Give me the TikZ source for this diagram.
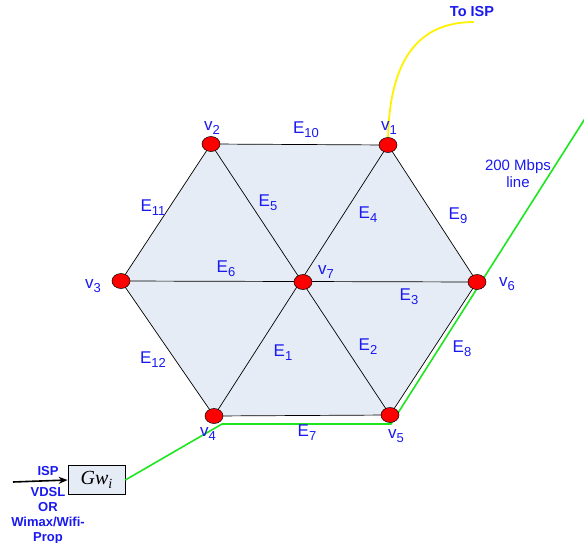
\documentclass[tikz,border=0pt]{standalone}
\usepackage{fontspec}
\setmainfont{Liberation Sans}
\newfontfamily\timesfont{Liberation Serif}
\usetikzlibrary{shapes.geometric,arrows.meta}
\definecolor{lblue}{RGB}{25,25,240}
\definecolor{hexfill}{RGB}{230,236,246}
\definecolor{ggreen}{RGB}{30,230,30}
\newcommand\lsub[1]{\raisebox{-0.45ex}{\fontsize{13}{13}\selectfont #1}}
\newcommand\gsub[1]{\raisebox{-0.45ex}{\fontsize{14}{14}\selectfont #1}}
\begin{document}
\begin{tikzpicture}[x=1pt,y=-1pt,
  vtx/.style={ellipse,draw=black,line width=0.5pt,fill=red,minimum width=18pt,minimum height=15pt,inner sep=0pt},
  lab/.style={text=lblue,font=\fontsize{17}{17}\selectfont,inner sep=0pt},
  edge/.style={draw=black,line width=0.7pt},
  small/.style={text=lblue,font=\bfseries\fontsize{13}{15}\selectfont,align=center,inner sep=0pt}]
\useasboundingbox (0,0) rectangle (584,543);
% hexagon fill
\fill[hexfill] (388,145) -- (211,144) -- (121,281) -- (214,416) -- (390,415) -- (477,282) -- cycle;
\coordinate (p1) at (388,145);
\coordinate (p2) at (211,144);
\coordinate (p3) at (121,281);
\coordinate (p4) at (214,416);
\coordinate (p5) at (390,415);
\coordinate (p6) at (477,282);
\coordinate (p7) at (303,282);
\draw[edge] (p1) -- (p2) -- (p3) -- (p4) -- (p5) -- (p6) -- cycle;
\draw[edge] (p1) -- (p4) (p2) -- (p5) (p3) -- (p6);
% green line
\node[draw=black,fill=hexfill,line width=0.7pt,minimum width=57pt,minimum height=29pt,inner sep=0pt] (gw) at (96.5,480) {\timesfont\itshape\fontsize{20}{20}\selectfont Gw\gsub{i}};
\coordinate (g1) at (222,424);
\coordinate (g2) at (391,424);
\coordinate (g3) at (586,117);
\draw[ggreen,line width=1.6pt] (gw.east) -- (g1) -- (g2) -- (g3);
% yellow
\coordinate (y1) at (474,22);
\draw[yellow,line width=1.8pt] (p1) .. controls (388,60) and (418,22) .. (y1);
% vertices
\node[vtx] (v1) at (p1) {};
\node[vtx] (v2) at (p2) {};
\node[vtx] (v3) at (p3) {};
\node[vtx] (v4) at (p4) {};
\node[vtx] (v5) at (p5) {};
\node[vtx] (v6) at (p6) {};
\node[vtx] (v7) at (p7) {};
% vertex labels
\node[lab] at (389,128) {v\lsub{1}};
\node[lab] at (212,128) {v\lsub{2}};
\node[lab] at (93,286) {v\lsub{3}};
\node[lab] at (208,434) {v\lsub{4}};
\node[lab] at (396,436) {v\lsub{5}};
\node[lab] at (507,284) {v\lsub{6}};
\node[lab] at (326,272) {v\lsub{7}};
% edge labels
\node[lab] at (306,130) {E\lsub{10}};
\node[lab] at (153,208) {E\lsub{11}};
\node[lab] at (268,203) {E\lsub{5}};
\node[lab] at (368,215) {E\lsub{4}};
\node[lab] at (458,216) {E\lsub{9}};
\node[lab] at (226,269) {E\lsub{6}};
\node[lab] at (409,297) {E\lsub{3}};
\node[lab] at (153,360) {E\lsub{12}};
\node[lab] at (283,353) {E\lsub{1}};
\node[lab] at (368,347) {E\lsub{2}};
\node[lab] at (462,349) {E\lsub{8}};
\node[lab] at (307,433) {E\lsub{7}};
% texts
\node[text=lblue,font=\bfseries\fontsize{14.5}{14.5}\selectfont,inner sep=0pt] (toisp) at (472,12) {To ISP};
\node[text=lblue,font=\fontsize{15}{17}\selectfont,align=center,inner sep=0pt] (mbps) at (518,174) {200 Mbps\\line};
\node[small] (isp) at (48,505) {ISP\\[6pt]VDSL\\OR\\Wimax/Wifi-\\Prop};
\coordinate (a0) at (13,482);
\draw[-{Stealth[length=9pt,width=7pt]},line width=1.6pt] (a0) -- (gw.west);
\end{tikzpicture}
\end{document}
